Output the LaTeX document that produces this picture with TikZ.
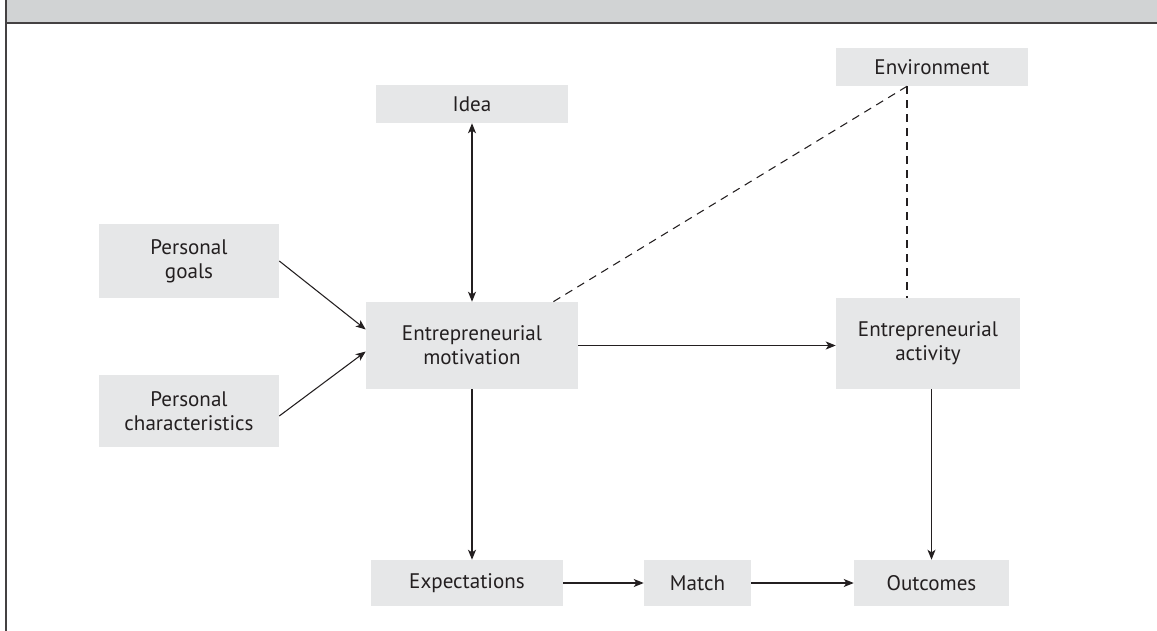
\documentclass[tikz,border=0pt]{standalone}
\usepackage{fontspec}
\setmainfont{PT Sans}
\usetikzlibrary{arrows.meta,calc}
\definecolor{boxgray}{HTML}{E6E7E8}
\definecolor{bandgray}{HTML}{D1D3D4}
\definecolor{ink}{HTML}{231F20}
\tikzset{
  box/.style={fill=boxgray, draw=none, inner sep=0pt, align=center, text=ink,
    font=\fontsize{15.8}{18}\selectfont},
  arr/.style={draw=ink, line width=0.8pt, -{Stealth[length=7.5pt,width=6pt,inset=2pt]}},
  darr/.style={draw=ink, line width=0.8pt, {Stealth[length=7.5pt,width=6pt,inset=2pt]}-{Stealth[length=7.5pt,width=6pt,inset=2pt]}},
  dsh/.style={draw=ink, line width=0.8pt, dash pattern=on 6pt off 4.5pt},
}
\begin{document}
\begin{tikzpicture}[x=0.75pt,y=-0.75pt]
\useasboundingbox (0,0) rectangle (1157,631);
% frame
\fill[bandgray] (6,0) rectangle (1157,23);
\draw[ink!85, line width=1.5pt] (6,23) -- (1157,23);
\draw[ink!85, line width=1.5pt] (6,0) -- (6,631);
% nodes
\node[box, minimum width=144pt, minimum height=28.5pt] (idea) at (472,104) {\raisebox{-2.5pt}{Idea}};
\node[box, minimum width=144pt, minimum height=28.5pt] (env) at (932,67) {\raisebox{-2.5pt}{Environment}};
\node[box, minimum width=135pt, minimum height=55.5pt] (pg) at (189,261) {Personal\\goals};
\node[box, minimum width=135pt, minimum height=54pt] (pc) at (189,411) {Personal\\characteristics};
\node[box, minimum width=159pt, minimum height=65.25pt] (mot) at (472,345.5) {Entrepreneurial\\motivation};
\node[box, minimum width=138pt, minimum height=68.25pt] (act) at (928,343.5) {Entrepreneurial\\activity};
\node[box, minimum width=144pt, minimum height=34.5pt] (exp) at (467,583) {Expectations};
\node[box, minimum width=80.25pt, minimum height=34.5pt] (match) at (697.5,583) {Match};
\node[box, minimum width=116.25pt, minimum height=34.5pt] (out) at (931.5,583) {Outcomes};
% helper coordinates
\coordinate (ej) at ($(env.south)+(-25,0)$);
\coordinate (mj) at ($(mot.north east)+(-25,0)$);
% connectors
\draw[arr] (pg.east) -- ($(mot.west)+(0,-16)$);
\draw[arr] ($(pc.east)+(0,5)$) -- ($(mot.west)+(0,6)$);
\draw[darr] (idea.south) -- (mot.north);
\draw[arr] (mot.east) -- (mot.east -| act.west);
\draw[arr] (mot.south) -- (mot.south |- exp.north);
\draw[arr] (act.south -| out.north) -- (out.north);
\draw[arr] (exp.east) -- (match.west);
\draw[arr] (match.east) -- (out.west);
\draw[dsh] (ej) -- (ej |- act.north);
\draw[dsh] (ej) -- (mj);
\end{tikzpicture}
\end{document}
